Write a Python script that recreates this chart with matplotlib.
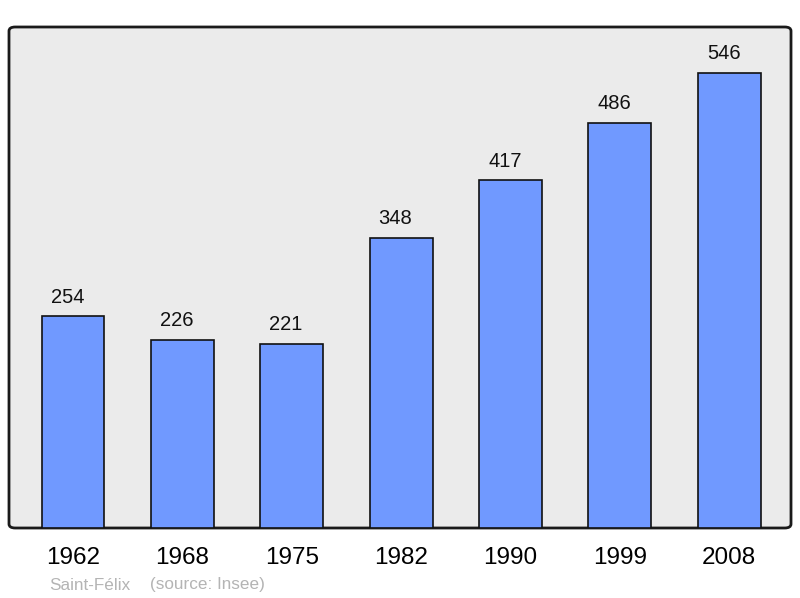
import matplotlib.pyplot as plt
from matplotlib.patches import FancyBboxPatch

years = ["1962", "1968", "1975", "1982", "1990", "1999", "2008"]
population = [254, 226, 221, 348, 417, 486, 546]

plt.rcParams['font.family'] = ['Liberation Sans', 'DejaVu Sans']

fig = plt.figure(figsize=(8, 5.98), dpi=100)
ax = fig.add_axes([9 / 800, 70 / 598, 782 / 800, 501 / 598])
ax.set_facecolor('none')

# fond gris avec coins arrondis
bg = FancyBboxPatch((0, 0), 1, 1, boxstyle="round,pad=0,rounding_size=0.008",
                    transform=ax.transAxes, facecolor='#ebebeb', edgecolor='#1a1a1a',
                    linewidth=2, zorder=0, clip_on=False)
ax.add_patch(bg)

x = list(range(len(years)))
ax.bar(x, population, width=0.575, color='#7099ff', edgecolor='#111111', linewidth=1.2, zorder=2)
for xi, v in zip(x, population):
    ax.annotate(str(v), (xi, v), xytext=(-4, 7), textcoords='offset points',
                ha='center', va='bottom', fontsize=14.5, color='#111111')

ax.set_xlim(-0.585, 6.565)
ax.set_ylim(0, 601)
for s in ax.spines.values():
    s.set_visible(False)
ax.set_yticks([])
ax.set_xticks(x)
ax.set_xticklabels(years, fontsize=17.5)
ax.tick_params(axis='x', length=0, pad=14)

fig.text(49 / 800, 1 - 585 / 598, "Saint-Félix", fontsize=12.3,
         color='#b4b4b4', ha='left', va='center')
fig.text(150 / 800, 1 - 585 / 598, "(source: Insee)", fontsize=12.3,
         color='#b4b4b4', ha='left', va='center')

fig.savefig('out.png', dpi=100)
